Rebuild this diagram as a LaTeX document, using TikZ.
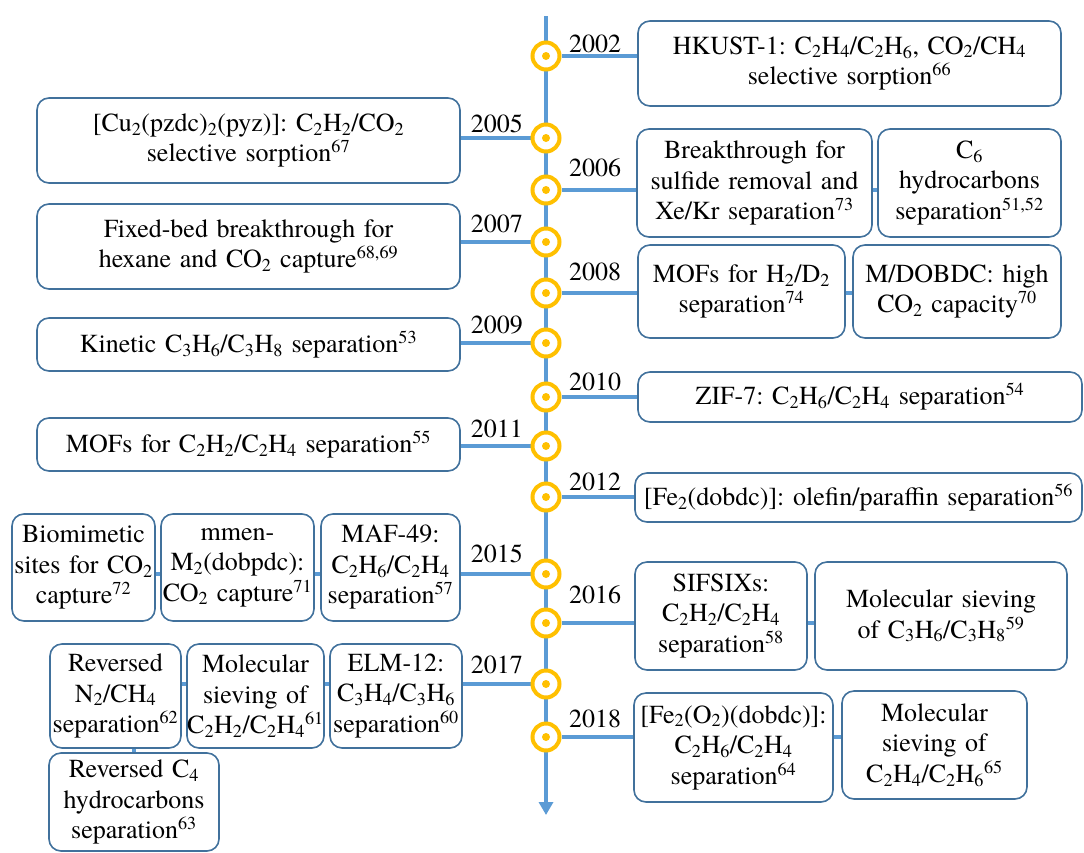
\documentclass[tikz,border=0pt]{standalone}
\usepackage{fontspec}
\setmainfont{texgyretermes}[Extension=.otf,UprightFont=*-regular,BoldFont=*-bold,ItalicFont=*-italic,BoldItalicFont=*-bolditalic]
\usetikzlibrary{arrows.meta,backgrounds}
\definecolor{axisblue}{HTML}{5B9BD5}
\definecolor{boxblue}{HTML}{41719C}
\definecolor{markorange}{HTML}{FFC000}
\newcommand\chsub[1]{\textsubscript{#1}}
\newcommand\citeref[1]{\textsuperscript{#1}}
\frenchspacing

\begin{document}
\begin{tikzpicture}[x=1pt,y=-1pt,
    font=\rmfamily\fontsize{26}{30.5}\selectfont,
    event/.style 2 args={draw=boxblue,line width=1.6pt,rounded corners=12pt,fill=white,
        align=center,inner xsep=0pt,inner ysep=1pt,text width=#1pt,minimum height=#2pt},
    yearmark/.style={circle,draw=markorange,line width=4pt,fill=white,minimum size=27pt,inner sep=0pt,
        path picture={\fill[markorange] (path picture bounding box.center) circle (4pt);}},
    link/.style={draw=axisblue,line width=3.5pt},
    year/.style={inner sep=0pt}]
    \useasboundingbox (0,0) rectangle (1084,852);

    % time axis
    \coordinate (axtop) at (546,16);
    \coordinate (axend) at (546,815);

    % markers
    \node[yearmark] (m2002) at (546,56) {};
    \node[yearmark] (m2005) at (546,138) {};
    \node[yearmark] (m2006) at (546,190) {};
    \node[yearmark] (m2007) at (546,242) {};
    \node[yearmark] (m2008) at (546,293) {};
    \node[yearmark] (m2009) at (546,343) {};
    \node[yearmark] (m2010) at (546,397) {};
    \node[yearmark] (m2011) at (546,446) {};
    \node[yearmark] (m2012) at (546,497) {};
    \node[yearmark] (m2015) at (546,574) {};
    \node[yearmark] (m2016) at (546,623) {};
    \node[yearmark] (m2017) at (546,684) {};
    \node[yearmark] (m2018) at (546,737) {};

    % years
    \node[year,anchor=base west] (t2002) at (569,52) {2002};
    \node[year,anchor=base east] (t2005) at (523,132) {2005};
    \node[year,anchor=base west] (t2006) at (569,176) {2006};
    \node[year,anchor=base east] (t2007) at (523,232) {2007};
    \node[year,anchor=base west] (t2008) at (569,280) {2008};
    \node[year,anchor=base east] (t2009) at (523,333) {2009};
    \node[year,anchor=base west] (t2010) at (569,390) {2010};
    \node[year,anchor=base east] (t2011) at (523,437) {2011};
    \node[year,anchor=base west] (t2012) at (569,490) {2012};
    \node[year,anchor=base east] (t2015) at (523,562) {2015};
    \node[year,anchor=base west] (t2016) at (569,603) {2016};
    \node[year,anchor=base east] (t2017) at (523,673) {2017};
    \node[year,anchor=base west] (t2018) at (569,727) {2018};

    % right side
    \node[event={423}{85}] (e2002) at (849.5,63.5)
        {HKUST-1: C\chsub{2}H\chsub{4}/C\chsub{2}H\chsub{6}, CO\chsub{2}/CH\chsub{4}\\ selective sorption\citeref{66}};
    \node[event={235}{108}] (e2006a) at (754.5,183)
        {Breakthrough for\\ sulfide removal and\\ Xe/Kr separation\citeref{73}};
    \node[event={183}{108}] (e2006b) at (969.5,183)
        {C\chsub{6}\\ hydrocarbons\\ separation\citeref{51,52}};
    \node[event={207}{93}] (e2008a) at (741.5,291.5)
        {MOFs for H\chsub{2}/D\chsub{2}\\ separation\citeref{74}};
    \node[event={208}{93}] (e2008b) at (957,291.5)
        {M/DOBDC: high\\ CO\chsub{2} capacity\citeref{70}};
    \node[event={444}{50}] (e2010) at (860,397)
        {ZIF-7: C\chsub{2}H\chsub{6}/C\chsub{2}H\chsub{4} separation\citeref{54}};
    \node[event={447}{49}] (e2012) at (858.5,497.5)
        {[Fe\chsub{2}(dobdc)]: olefin/paraffin separation\citeref{56}};
    \node[event={172}{108}] (e2016a) at (721,616)
        {SIFSIXs:\\ C\chsub{2}H\chsub{2}/C\chsub{2}H\chsub{4}\\ separation\citeref{58}};
    \node[event={252}{108}] (e2016b) at (941,616)
        {Molecular sieving\\ of C\chsub{3}H\chsub{6}/C\chsub{3}H\chsub{8}\citeref{59}};
    \node[event={199}{109}] (e2018a) at (733.5,747.5)
        {[Fe\chsub{2}(O\chsub{2})(dobdc)]:\\ C\chsub{2}H\chsub{6}/C\chsub{2}H\chsub{4}\\ separation\citeref{64}};
    \node[event={185}{108}] (e2018b) at (934.5,745)
        {Molecular\\ sieving of\\ C\chsub{2}H\chsub{4}/C\chsub{2}H\chsub{6}\citeref{65}};

    % left side
    \node[event={423}{85}] (e2005) at (248.5,140.5)
        {[Cu\chsub{2}(pzdc)\chsub{2}(pyz)]: C\chsub{2}H\chsub{2}/CO\chsub{2}\\ selective sorption\citeref{67}};
    \node[event={423}{85}] (e2007) at (248.5,246.5)
        {Fixed-bed breakthrough for\\ hexane and CO\chsub{2} capture\citeref{68,69}};
    \node[event={423}{53}] (e2009) at (248.5,344.5)
        {Kinetic C\chsub{3}H\chsub{6}/C\chsub{3}H\chsub{8} separation\citeref{53}};
    \node[event={423}{53}] (e2011) at (248.5,444.5)
        {MOFs for C\chsub{2}H\chsub{2}/C\chsub{2}H\chsub{4} separation\citeref{55}};
    \node[event={143}{107}] (e2015a) at (83.5,567.5)
        {Biomimetic\\ sites for CO\chsub{2}\\ capture\citeref{72}};
    \node[event={153}{107}] (e2015b) at (237.5,567.5)
        {mmen-\\ M\chsub{2}(dobpdc):\\ CO\chsub{2} capture\citeref{71}};
    \node[event={139}{107}] (e2015c) at (390.5,567.5)
        {MAF-49:\\ C\chsub{2}H\chsub{6}/C\chsub{2}H\chsub{4}\\ separation\citeref{57}};
    \node[event={131}{104}] (e2017a) at (115.5,696)
        {Reversed\\ N\chsub{2}/CH\chsub{4}\\ separation\citeref{62}};
    \node[event={137}{104}] (e2017b) at (255.5,696)
        {Molecular\\ sieving of\\ C\chsub{2}H\chsub{2}/C\chsub{2}H\chsub{4}\citeref{61}};
    \node[event={132}{104}] (e2017c) at (396,696)
        {ELM-12:\\ C\chsub{3}H\chsub{4}/C\chsub{3}H\chsub{6}\\ separation\citeref{60}};
    \node[event={170}{98}] (e2017d) at (134,802)
        {Reversed C\chsub{4}\\ hydrocarbons\\ separation\citeref{63}};

    % connectors
    \begin{scope}[on background layer]
    \draw[link,line width=4pt,-{Triangle[width=14pt,length=13pt]}] (axtop) -- (axend);
    \draw[link] (m2002) -- (m2002 -| e2002.west);
    \draw[link] (m2005) -- (m2005 -| e2005.east);
    \draw[link] (m2006) -- (m2006 -| e2006a.west);
    \draw[link] (e2006a.east |- m2006) -- (e2006b.west |- m2006);
    \draw[link] (m2007) -- (m2007 -| e2007.east);
    \draw[link] (m2008) -- (m2008 -| e2008a.west);
    \draw[link] (e2008a.east |- m2008) -- (e2008b.west |- m2008);
    \draw[link] (m2009) -- (m2009 -| e2009.east);
    \draw[link] (m2010) -- (m2010 -| e2010.west);
    \draw[link] (m2011) -- (m2011 -| e2011.east);
    \draw[link] (m2012) -- (m2012 -| e2012.west);
    \draw[link] (m2015) -- (m2015 -| e2015c.east);
    \draw[link] (e2015c.west |- m2015) -- (e2015b.east |- m2015);
    \draw[link] (e2015b.west |- m2015) -- (e2015a.east |- m2015);
    \draw[link] (m2016) -- (m2016 -| e2016a.west);
    \draw[link] (e2016a.east |- m2016) -- (e2016b.west |- m2016);
    \draw[link] (m2017) -- (m2017 -| e2017c.east);
    \draw[link] (e2017c.west |- m2017) -- (e2017b.east |- m2017);
    \draw[link] (e2017b.west |- m2017) -- (e2017a.east |- m2017);
    \draw[link] (e2017d.north |- e2017a.south) -- (e2017d.north);
    \draw[link] (m2018) -- (m2018 -| e2018a.west);
    \draw[link] (e2018a.east |- m2018) -- (e2018b.west |- m2018);
    \end{scope}
\end{tikzpicture}
\end{document}
